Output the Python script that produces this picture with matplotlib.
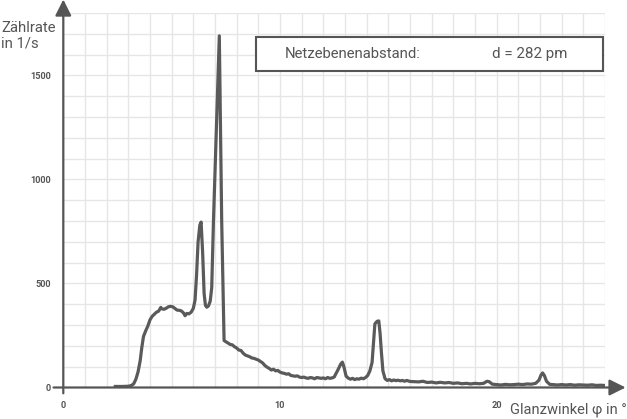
import matplotlib
matplotlib.use("Agg")
import matplotlib.pyplot as plt
from matplotlib.patches import Rectangle

# ---- data ----
angle = [2.4, 2.7, 3.0, 3.15, 3.25, 3.35, 3.45, 3.55, 3.62, 3.7, 3.8, 3.9, 4.0, 4.1, 4.2, 4.3, 4.4,
         4.5, 4.55, 4.65, 4.75, 4.85, 4.95, 5.05, 5.15, 5.25, 5.35, 5.45, 5.55, 5.62, 5.7, 5.8, 5.9,
         6.0, 6.08, 6.15, 6.22, 6.3, 6.36, 6.43, 6.5, 6.56, 6.62, 6.7, 6.78, 6.85, 6.93, 7.05, 7.2,
         7.31, 7.42, 7.5, 7.6, 7.7, 7.8, 7.9, 8.0, 8.1, 8.2, 8.3, 8.4, 8.5, 8.6, 8.7, 8.8, 8.9, 9.0,
         9.1, 9.2, 9.3, 9.4, 9.5, 9.6, 9.7, 9.8, 9.9, 10.0, 10.1, 10.2, 10.3, 10.4, 10.5, 10.6, 10.7,
         10.8, 10.9, 11.0, 11.1, 11.2, 11.3, 11.4, 11.5, 11.6, 11.7, 11.8, 11.9, 12.0, 12.1, 12.2,
         12.3, 12.4, 12.5, 12.6, 12.7, 12.8, 12.88, 12.95, 13.05, 13.15, 13.25, 13.35, 13.45, 13.55,
         13.65, 13.75, 13.85, 13.95, 14.05, 14.15, 14.25, 14.32, 14.38, 14.48, 14.56, 14.62, 14.68,
         14.75, 14.85, 14.95, 15.05, 15.15, 15.25, 15.35, 15.45, 15.55, 15.65, 15.75, 15.85, 16.0,
         16.2, 16.4, 16.6, 16.8, 17.0, 17.2, 17.4, 17.6, 17.8, 18.0, 18.2, 18.4, 18.6, 18.8, 19.0,
         19.2, 19.4, 19.55, 19.65, 19.8, 20.0, 20.2, 20.4, 20.6, 20.8, 21.0, 21.2, 21.4, 21.6, 21.8,
         21.95, 22.05, 22.12, 22.2, 22.3, 22.45, 22.6, 22.8, 23.0, 23.2, 23.4, 23.6, 23.8, 24.0,
         24.2, 24.4, 24.6, 24.8, 24.95]
rate = [5, 5, 6, 10, 18, 40, 75, 130, 190, 245, 272, 295, 325, 342, 352, 362, 367,
        385, 378, 376, 381, 388, 390, 388, 380, 372, 371, 368, 358, 345, 356, 354, 362,
        380, 420, 540, 700, 780, 795, 650, 450, 395, 386, 392, 415, 480, 800, 1200, 1690,
        800, 226, 220, 214, 207, 205, 196, 190, 180, 178, 165, 156, 152, 148, 142, 140, 136, 132,
        125, 118, 106, 98, 92, 84, 88, 80, 82, 74, 70, 68, 64, 66, 58, 56, 54,
        56, 50, 48, 50, 46, 44, 48, 46, 42, 48, 46, 44, 46, 42, 48,
        44, 46, 50, 70, 90, 112, 122, 100, 55, 45, 40, 44, 38, 42,
        40, 45, 42, 48, 58, 80, 120, 220, 306, 318, 320, 260, 170,
        80, 42, 34, 38, 32, 36, 33, 35, 32, 34, 30, 34, 29,
        28, 27, 30, 24, 26, 22, 25, 22, 24, 20, 22, 18, 20, 17, 20,
        18, 20, 30, 28, 16, 14, 12, 15, 13, 14, 16, 14, 17, 16, 20,
        35, 60, 70, 58, 30, 15, 14, 12, 14, 12, 14, 11, 13, 12,
        11, 13, 10, 11, 10]
x_ticks = [0, 10, 20]
y_ticks = [0, 500, 1000, 1500]
x_label = "Glanzwinkel φ in °"
y_label = "Zählrate\nin 1/s"
box_left = "Netzebenenabstand:"
box_right = "d = 282 pm"

plt.rcParams['font.family'] = ['Roboto', 'DejaVu Sans']
W, H = 627, 419
fig = plt.figure(figsize=(W / 100, H / 100), dpi=100)
L, R, B, T = 63.3, 605, 387.5, 13
ax = fig.add_axes([L / W, (H - B) / H, (R - L) / W, (B - T) / H])
ax.set_xlim(0, 25)
ax.set_ylim(0, 1800)

grey = "#555555"
ax.set_xticks(range(0, 26), minor=True)
ax.set_yticks(range(0, 1801, 100), minor=True)
ax.set_xticks(x_ticks)
ax.set_yticks(y_ticks)
ax.set_xticklabels([str(v) for v in x_ticks])
ax.set_yticklabels([str(v) for v in y_ticks])
ax.grid(True, which='both', color='#e6e6e6', lw=1.0)
ax.set_axisbelow(True)
ax.tick_params(which='both', length=0)
ax.tick_params(axis='x', pad=9.5, labelsize=6.6, labelcolor=grey)
ax.tick_params(axis='y', pad=9.0, labelsize=6.6, labelcolor=grey)
for lab in ax.get_xticklabels() + ax.get_yticklabels():
    lab.set_fontweight('bold')
for s in ax.spines.values():
    s.set_visible(False)

ax.plot(angle, rate, color="#5a5a5a", lw=2.3, solid_joinstyle='round', zorder=3)

# axis arrows
arrow = dict(arrowstyle='-|>,head_length=0.7,head_width=0.35', color=grey, lw=1.6,
             mutation_scale=14, shrinkA=0, shrinkB=0)
ax.annotate('', xy=(25.95, 0), xytext=(-0.45, 0), arrowprops=arrow, annotation_clip=False)
ax.annotate('', xy=(0, 1865), xytext=(0, -28), arrowprops=arrow, annotation_clip=False)

# axis labels
fig.text(1 / W, 1 - 48 / H, y_label, ha='left', va='baseline', fontsize=10.7,
         color=grey, linespacing=1.15)
fig.text(627 / W, 1 - 413 / H, x_label, ha='right', va='baseline', fontsize=10.5, color=grey)

# info box
fig.patches.append(Rectangle((256 / W, 1 - 70.7 / H), (603.3 - 256) / W, (70.7 - 37.3) / H,
                             transform=fig.transFigure, facecolor='white', edgecolor=grey,
                             lw=1.5, zorder=5))
fig.text(285 / W, 1 - 54 / H, box_left, ha='left', va='center', fontsize=10.7, color=grey, zorder=6)
fig.text(492 / W, 1 - 54 / H, box_right, ha='left', va='center', fontsize=10.9, color=grey, zorder=6)

fig.savefig("out.png", dpi=100)
